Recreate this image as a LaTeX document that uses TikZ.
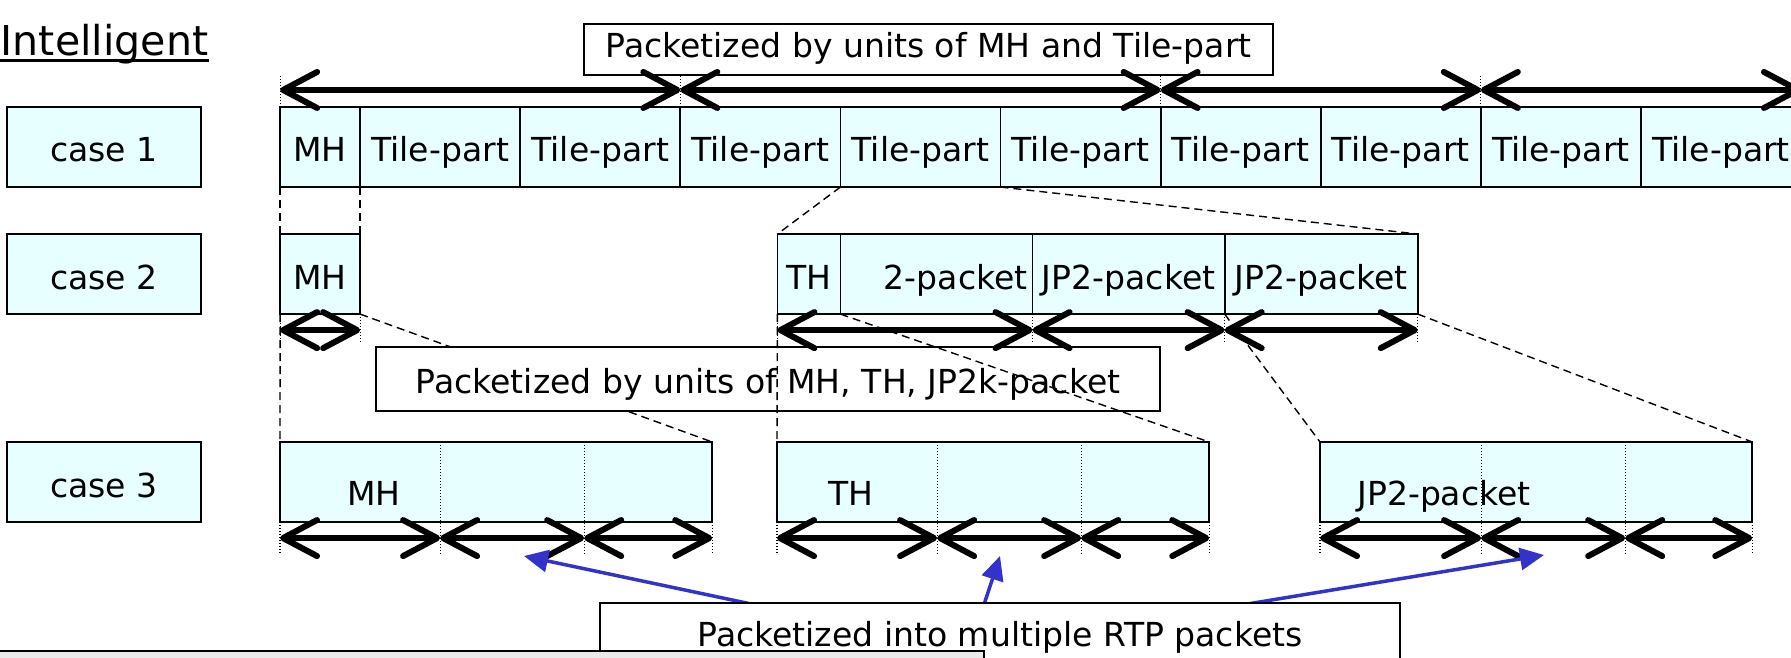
\documentclass[tikz,border=0pt]{standalone}
\usepackage{fontspec}
\setmainfont{DejaVu Sans}
\usepackage{tikz}
\usetikzlibrary{arrows.meta,positioning}
\definecolor{cellfill}{HTML}{E8FFFF}
\definecolor{rtpblue}{HTML}{3333CC}
\definecolor{panelgray}{HTML}{EAEAEA}

\begin{document}
\begin{tikzpicture}[
    x=0.01cm, y=-0.01cm,
    node distance=0pt,
    every node/.style={font=\fontsize{9.4}{11}\selectfont},
    box/.style={draw, line width=0.5pt, fill=cellfill, outer sep=0pt, inner sep=0pt, minimum height=0.8cm, text height=8.5pt, text depth=0pt},
    casebox/.style={box, line width=0.6pt, minimum width=1.94cm},
    cell/.style={box, minimum width=1.6cm},
    seg/.style={box, minimum width=4.32cm, anchor=north west},
    note/.style={draw, fill=white, line width=0.5pt, outer sep=0pt, inner sep=0pt, text height=8pt, text depth=0pt},
    span/.style={line width=0.06cm, >={Straight Barb[length=0.34cm, width=0.36cm, round]}, <->},
    tick/.style={line width=0.3pt, dash pattern=on 0.01cm off 0.02cm},
    zoomline/.style={line width=0.4pt, dash pattern=on 0.08cm off 0.05cm},
    rtp/.style={-{Triangle[length=0.24cm, width=0.22cm]}, line width=0.035cm, rtpblue},
]
\useasboundingbox (0,0) rectangle (1791,657);
\clip (0,0) rectangle (1791,657);

% Heading
\node[anchor=base west, inner sep=0pt, font=\fontsize{11.7}{14}\selectfont] (heading) at (0,55) {Intelligent};
\draw[line width=0.03cm] ([yshift=-0.05cm]heading.base west) -- ([yshift=-0.05cm]heading.base east);

% Cases
\node[casebox] (case1) at (104,147) {case 1};
\node[casebox, below=0.47cm of case1] (case2) {case 2};
\node[casebox, below=1.28cm of case2] (case3) {case 3};

% case 1: MH and tile-parts
\node[box, minimum width=0.8cm, right=0.79cm of case1] (mhA) {MH};
\node[cell, right=of mhA] (tpA1) {Tile-part};
\node[cell, right=of tpA1] (tpA2) {Tile-part};
\node[cell, right=of tpA2] (tpA3) {Tile-part};
\node[cell, right=of tpA3] (tpA4) {Tile-part};
\node[cell, right=of tpA4] (tpA5) {Tile-part};
\node[cell, right=of tpA5] (tpA6) {Tile-part};
\node[cell, right=of tpA6] (tpA7) {Tile-part};
\node[cell, right=of tpA7] (tpA8) {Tile-part};
\node[cell, right=of tpA8] (tpA9) {Tile-part};

% case 1 label and spans
\node[note, minimum width=6.89cm, minimum height=0.51cm, text height=4.8pt] (unitsA) at (928.5,49.5) {Packetized by units of MH and Tile-part};
\draw[tick] (mhA.north west) -- ++(0,-32);
\draw[tick] (tpA2.north east) -- ++(0,-32);
\draw[tick] (tpA5.north east) -- ++(0,-32);
\draw[tick] (tpA7.north east) -- ++(0,-32);
\draw[span] ([yshift=0.17cm]mhA.north west) -- ([yshift=0.17cm]tpA2.north east);
\draw[span] ([yshift=0.17cm]tpA2.north east) -- ([yshift=0.17cm]tpA5.north east);
\draw[span] ([yshift=0.17cm]tpA5.north east) -- ([yshift=0.17cm]tpA7.north east);
\draw[span] ([yshift=0.17cm]tpA7.north east) -- ([yshift=0.17cm]tpA9.north east);

% case 2: MH, TH and JP2 packets
\node[box, minimum width=0.8cm, below=0.47cm of mhA] (mhB) {MH};
\node[box, minimum width=0.63cm, right=4.17cm of mhB] (thB) {TH};
\node[box, minimum width=1.92cm, text width=1.82cm, align=right, right=of thB] (pkB1) {2-packet};
\node[box, minimum width=1.92cm, right=of pkB1] (pkB2) {JP2-packet};
\node[box, minimum width=1.93cm, right=of pkB2] (pkB3) {JP2-packet};

\draw[zoomline] (mhA.south west) -- (mhB.north west);
\draw[zoomline] (mhA.south east) -- (mhB.north east);
\draw[zoomline] (tpA4.south west) -- (thB.north west);
\draw[zoomline] (tpA4.south east) -- (pkB3.north east);

% case 3: split into RTP payloads
\node[seg] (mhC) at (280,442) {};
\node[seg] (thC) at (777,442) {};
\node[seg] (pkC) at (1320,442) {};
\node[anchor=base] (mhCtext) at (374,505) {MH};
\node[anchor=base] (thCtext) at (851,505) {TH};
\node[anchor=base] (pkCtext) at (1444,505) {JP2-packet};

\draw[zoomline] (mhB.south west) -- (mhC.north west);
\draw[zoomline] (mhB.south east) -- (mhC.north east);
\node[note, minimum width=7.84cm, minimum height=0.64cm] (unitsB) at (768,379) {Packetized by units of MH, TH, JP2k-packet};
\draw[zoomline] (thB.south west) -- (thC.north west);
\draw[zoomline] (thB.south east) -- (thC.north east);
\draw[zoomline] (pkB2.south east) -- (pkC.north west);
\draw[zoomline] (pkB3.south east) -- (pkC.north east);

% case 2 spans
\draw[tick] (mhB.south west) -- ++(0,30);
\draw[tick] (mhB.south east) -- ++(0,30);
\draw[tick] (thB.south west) -- ++(0,30);
\draw[tick] (pkB1.south east) -- ++(0,30);
\draw[tick] (pkB2.south east) -- ++(0,30);
\draw[tick] (pkB3.south east) -- ++(0,30);
\draw[span] ([yshift=-0.16cm]mhB.south west) -- ([yshift=-0.16cm]mhB.south east);
\draw[span] ([yshift=-0.16cm]thB.south west) -- ([yshift=-0.16cm]pkB1.south east);
\draw[span] ([yshift=-0.16cm]pkB1.south east) -- ([yshift=-0.16cm]pkB2.south east);
\draw[span] ([yshift=-0.16cm]pkB2.south east) -- ([yshift=-0.16cm]pkB3.south east);

% case 3 dividers and spans
\draw[tick] ([xshift=1.6cm]mhC.north west) -- ++(0,113);
\draw[tick] ([xshift=3.04cm]mhC.north west) -- ++(0,113);
\draw[tick] ([xshift=1.6cm]thC.north west) -- ++(0,113);
\draw[tick] ([xshift=3.04cm]thC.north west) -- ++(0,113);
\draw[tick] ([xshift=1.61cm]pkC.north west) -- ++(0,113);
\draw[tick] ([xshift=3.05cm]pkC.north west) -- ++(0,113);
\draw[tick] (mhC.south west) -- ++(0,33);
\draw[tick] (mhC.south east) -- ++(0,33);
\draw[tick] (thC.south west) -- ++(0,33);
\draw[tick] (thC.south east) -- ++(0,33);
\draw[tick] (pkC.south west) -- ++(0,33);
\draw[tick] (pkC.south east) -- ++(0,33);
\draw[span] ([yshift=-0.16cm]mhC.south west) -- ([xshift=1.6cm, yshift=-0.16cm]mhC.south west);
\draw[span] ([xshift=1.6cm, yshift=-0.16cm]mhC.south west) -- ([xshift=3.04cm, yshift=-0.16cm]mhC.south west);
\draw[span] ([xshift=3.04cm, yshift=-0.16cm]mhC.south west) -- ([yshift=-0.16cm]mhC.south east);
\draw[span] ([yshift=-0.16cm]thC.south west) -- ([xshift=1.6cm, yshift=-0.16cm]thC.south west);
\draw[span] ([xshift=1.6cm, yshift=-0.16cm]thC.south west) -- ([xshift=3.04cm, yshift=-0.16cm]thC.south west);
\draw[span] ([xshift=3.04cm, yshift=-0.16cm]thC.south west) -- ([yshift=-0.16cm]thC.south east);
\draw[span] ([yshift=-0.16cm]pkC.south west) -- ([xshift=1.61cm, yshift=-0.16cm]pkC.south west);
\draw[span] ([xshift=1.61cm, yshift=-0.16cm]pkC.south west) -- ([xshift=3.05cm, yshift=-0.16cm]pkC.south west);
\draw[span] ([xshift=3.05cm, yshift=-0.16cm]pkC.south west) -- ([yshift=-0.16cm]pkC.south east);

% RTP arrows
\coordinate (hub) at (969,650);
\coordinate (tipMH) at (524,556);
\coordinate (tipTH) at (1000,556);
\coordinate (tipPk) at (1544,555);
\draw[rtp] (hub) -- (tipMH);
\draw[rtp] (hub) -- (tipTH);
\draw[rtp] (hub) -- (tipPk);
\node[note, minimum width=8cm, minimum height=0.58cm] (unitsC) at (1000,632) {Packetized into multiple RTP packets};

% Panel below
\draw[line width=0.5pt, fill=panelgray] (-10,651) rectangle (984,700);
\end{tikzpicture}
\end{document}
